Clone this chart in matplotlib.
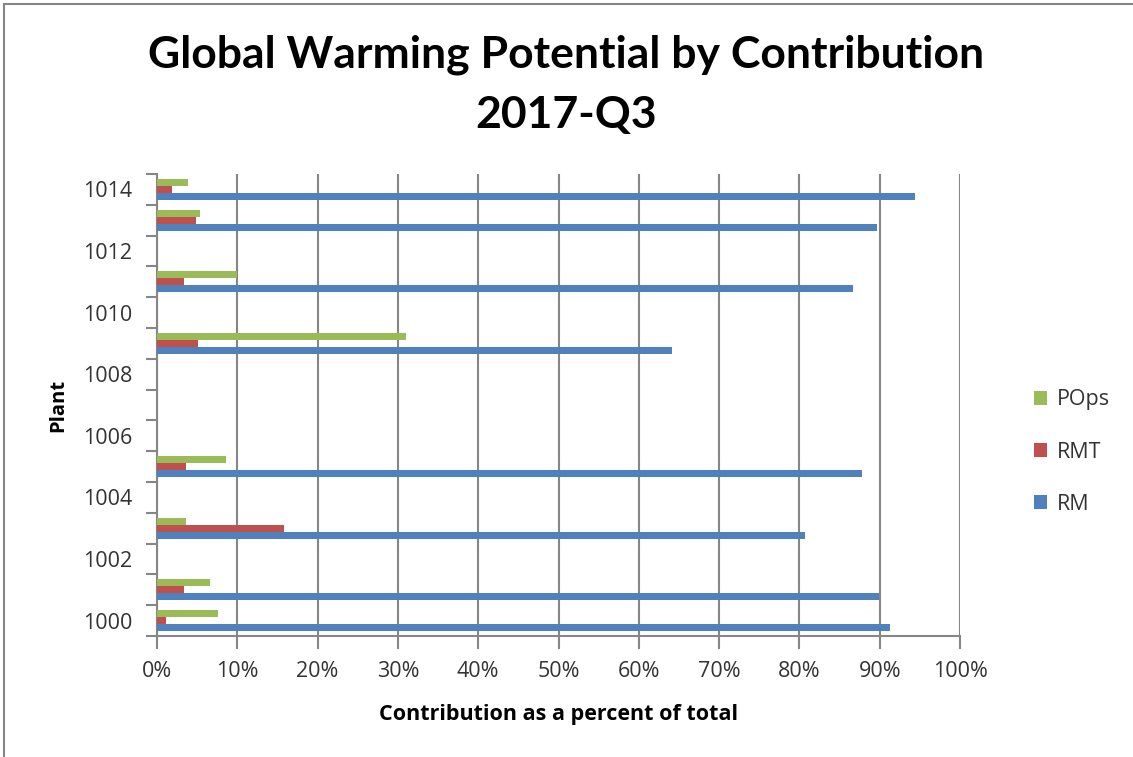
import numpy as np
import matplotlib

matplotlib.use("Agg")
import matplotlib.pyplot as plt
from matplotlib.lines import Line2D
from matplotlib.ticker import FixedLocator, PercentFormatter

plants = list(range(1000, 1015))
# percentage of total per plant, missing plants are empty
rm = [91.3, 89.9, 0, 80.7, 0, 87.8, 0, 0, 0, 64.1, 0, 86.7, 0, 89.7, 94.4]
rmt = [1.1, 3.4, 0, 15.8, 0, 3.6, 0, 0, 0, 5.1, 0, 3.4, 0, 4.9, 1.9]
pops = [7.6, 6.6, 0, 3.6, 0, 8.6, 0, 0, 0, 31.0, 0, 10.0, 0, 5.4, 3.9]
series = ["RM", "RMT", "POps"]
colors = ["#4F81BD", "#C0504D", "#9BBB59"]

TITLE_FONT = "Lato"
FONT = "Open Sans"
GRID = "#868686"

fig = plt.figure(figsize=(11.33, 7.57), dpi=100)
ax = fig.add_axes([157 / 1133, 1 - 636 / 757, 803 / 1133, 462 / 757])

y = np.arange(len(plants))
h = 0.225
for i, (vals, name, c) in enumerate(zip([rm, rmt, pops], series, colors)):
    ax.barh(y + (i - 1) * h, vals, height=h, color=c, label=name, zorder=3)

ax.set_xlim(0, 100)
ax.set_ylim(-0.5, len(plants) - 0.5)

# category axis: ticks between categories, labels on every 2nd
ax.yaxis.set_major_locator(FixedLocator(y[::2]))
ax.set_yticklabels([str(p) for p in plants[::2]])
ax.yaxis.set_minor_locator(FixedLocator(np.arange(-0.5, len(plants), 1)))
ax.tick_params(axis="y", which="major", length=0, pad=18)
ax.tick_params(axis="y", which="minor", length=8, width=1.5, color=GRID, direction="out")

ax.set_xticks(np.arange(0, 101, 10))
ax.xaxis.set_major_formatter(PercentFormatter(decimals=0))
ax.tick_params(axis="x", length=9, width=1.5, color=GRID, direction="out", pad=9)
ax.grid(axis="x", color=GRID, linewidth=1.5, zorder=0)

for lab in ax.get_xticklabels() + ax.get_yticklabels():
    lab.set_fontfamily(FONT)
    lab.set_fontsize(15.5)
    lab.set_color("#333333")

for s in ["top", "right"]:
    ax.spines[s].set_visible(False)
for s in ["left", "bottom"]:
    ax.spines[s].set_color(GRID)
    ax.spines[s].set_linewidth(1.5)

ax.set_xlabel("Contribution as a percent of total", fontfamily=FONT, fontsize=15.5,
              fontweight="bold", labelpad=16)
ax.set_ylabel("Plant", fontfamily=FONT, fontsize=14.5, fontweight="bold", labelpad=10)

fig.text(0.5, 1 - 55 / 757, "Global Warming Potential by Contribution", ha="center",
         va="center", fontfamily=TITLE_FONT, fontsize=32, fontweight="bold")
fig.text(0.5, 1 - 115 / 757, "2017-Q3", ha="center", va="center", fontfamily=TITLE_FONT,
         fontsize=32, fontweight="bold")

# legend in reverse order, like Excel
handles, labels = ax.get_legend_handles_labels()
leg = fig.legend(handles[::-1], labels[::-1], loc="center left",
                 bbox_to_anchor=(1034 / 1133, 1 - 452 / 757), frameon=False,
                 prop={"family": FONT, "size": 15.5}, handlelength=0.6, handleheight=0.6,
                 labelspacing=1.45, handletextpad=0.45, borderpad=0, borderaxespad=0)
for t in leg.get_texts():
    t.set_color("#333333")

# chart border, only top and left visible in the crop
fig.add_artist(Line2D([4 / 1133, 4 / 1133], [0, 1 - 4 / 757], color=GRID, lw=1.5))
fig.add_artist(Line2D([4 / 1133, 1], [1 - 4 / 757, 1 - 4 / 757], color=GRID, lw=1.5))

fig.savefig("out.png", dpi=100)
